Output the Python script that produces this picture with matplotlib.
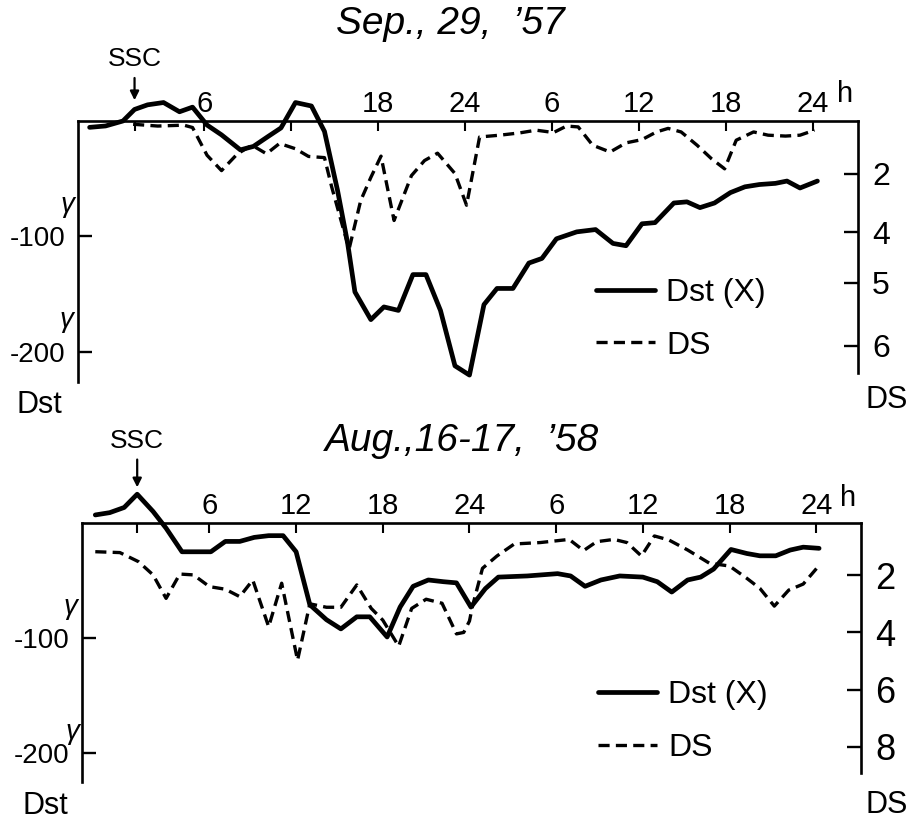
import numpy as np
import matplotlib
matplotlib.use('Agg')
import matplotlib.pyplot as plt

plt.rcParams['font.family'] = ['Liberation Sans', 'DejaVu Sans']
plt.rcParams['lines.scale_dashes'] = False

W, H = 913, 825

# ---------------- Sep. 29, '57 ----------------
hours_dst_57 = [-1.9, -0.8, 0.4, 1.2, 2.1, 3.2, 4.3, 5.2, 6.2, 7.2, 8.5, 9.4, 10.4, 11.3,
                12.3, 13.4, 14.3, 15.2, 15.9, 16.4, 17.5, 18.4, 19.4, 20.4, 21.3, 22.3,
                23.3, 24.3, 25.3, 26.2, 27.3, 28.4, 29.3, 30.3, 31.7, 33.0, 34.2, 35.1,
                36.2, 37.1, 38.4, 39.3, 40.2, 41.2, 42.3, 43.3, 44.3, 45.4, 46.2, 47.1, 48.3]
dst_57 = [-5.5, -4.3, 0, 10, 14, 16, 8, 12, -3.5, -12, -25, -22, -13.5, -6,
          16, 13, -9, -60, -106, -148, -172, -161, -164, -133, -133, -164,
          -212, -220, -159, -145, -145, -123, -119, -102, -96, -94, -106, -108,
          -89, -88, -71, -70, -75, -71, -62, -57, -55, -54, -52, -58, -52]
hours_ds_57 = [1.1, 2.8, 4.6, 5.2, 6.2, 7.2, 8.3, 9.3, 10.3, 11.2, 12.3, 13.2, 14.3, 14.8,
               15.6, 16.0, 16.8, 17.5, 18.2, 19.1, 20.3, 21.2, 22.1, 23.3, 24.1, 25.0,
               26.4, 27.8, 28.9, 30.1, 31.0, 31.8, 32.8, 34.0, 35.1, 36.2, 37.2, 38.0,
               38.9, 40.0, 41.0, 41.9, 42.7, 43.9, 44.9, 46.1, 47.1, 48.1]
ds_57 = [0.33, 0.39, 0.36, 0.44, 1.38, 1.9, 1.33, 1.04, 1.33, 0.98, 1.16, 1.42, 1.46, 2.46,
         3.88, 4.33, 2.92, 2.13, 1.41, 3.6, 2.07, 1.56, 1.31, 2.0, 3.08, 0.76,
         0.70, 0.62, 0.53, 0.61, 0.39, 0.42, 1.04, 1.27, 0.96, 0.85, 0.59, 0.47,
         0.59, 1.04, 1.5, 1.84, 0.87, 0.59, 0.70, 0.73, 0.70, 0.53]

# ---------------- Aug. 16-17, '58 ----------------
hours_dst_58 = [-1.9, -0.9, 0.1, 1.0, 2.1, 3.0, 4.1, 6.1, 7.1, 8.1, 9.1, 10.1, 11.1, 12.0,
                12.95, 14.1, 15.1, 16.2, 17.1, 18.3, 19.2, 20.1, 21.15, 22.2, 23.1, 24.1,
                25.1, 26.0, 28.0, 30.1, 31.0, 32.0, 33.1, 34.4, 36.0, 37.0, 38.0, 39.1,
                40.0, 40.9, 42.1, 43.2, 44.1, 45.2, 46.2, 47.1, 48.2]
dst_58 = [7, 9, 13.5, 25, 10, -4.5, -25, -25, -16, -16, -12.5, -11, -11, -25,
          -71, -84, -92, -81.5, -81.5, -99, -73, -55, -49.5, -51, -52, -73,
          -57, -47, -46, -44, -46, -55, -49.5, -46, -47, -51, -60, -49.5,
          -47, -40, -23, -26.5, -28.5, -28.5, -23.5, -21, -22]
hours_ds_58 = [-1.9, -0.2, 1.1, 2.1, 3.0, 3.95, 4.9, 6.0, 7.1, 8.1, 9.0, 10.1, 11.0, 12.1,
               12.95, 14.1, 15.1, 16.2, 17.2, 18.0, 19.1, 20.0, 21.0, 22.1, 23.1, 23.6,
               24.0, 24.2, 24.9, 25.9, 27.1, 28.9, 30.9, 31.9, 32.8, 34.0, 34.9, 35.9,
               36.8, 37.8, 39.1, 40.6, 42.0, 43.2, 44.1, 45.1, 46.1, 47.1, 48.1]
ds_58 = [1.18, 1.21, 1.53, 1.99, 2.81, 1.96, 1.99, 2.4, 2.49, 2.75, 2.17, 3.8, 2.28, 4.97,
         3.0, 3.12, 3.12, 2.34, 3.16, 3.57, 4.48, 3.16, 2.84, 2.98, 4.05, 4.0,
         3.6, 3.1, 1.76, 1.33, 0.91, 0.86, 0.75, 1.14, 0.83, 0.75, 0.86, 1.33,
         0.63, 0.77, 1.12, 1.58, 1.68, 2.11, 2.46, 3.08, 2.52, 2.31, 1.72]

hour_ticks = [6, 12, 18, 24, 30, 36, 42, 48]
hour_labels_57 = ['6', '', '18', '24', '6', '12', '18', '24']
hour_labels_58 = ['6', '12', '18', '24', '6', '12', '18', '24']
ssc_57, ssc_58 = 1.2, 1.0
dst_ticks = [-100, -200]
dst_labels = ['-100', '-200']
ds_ticks_57 = [2, 4, 5, 6]
ds_ticks_58 = [2, 4, 6, 8]

# DS axis scales (DS value -> equivalent depth on Dst axis), as drawn on the original figure
ds_knots_57 = [-5, 0, 2, 4, 5, 6, 10]
depth_knots_57 = [-132, -5.6, 45.5, 96.3, 140.1, 194.8, 415.6]
ds_knots_58 = [-10, 20]
depth_knots_58 = [-253.1, 493.0]


def fx(x):
    return x / W


def fy(y):
    return 1 - y / H


fig = plt.figure(figsize=(W / 100, H / 100), dpi=100)


def panel(rect, xlim, ylim_bot, right_bot, hours_dst, dst, hours_ds, ds, labels,
          ssc, ssc_y, ssc_off, ds_knots, depth_knots, ds_ticks, ds_fs, leg_xy):
    ax = fig.add_axes(rect)
    ax.set_xlim(*xlim)
    ax.set_ylim(ylim_bot, 0)
    ax.patch.set_alpha(0)
    for s in ['top', 'left', 'right']:
        ax.spines[s].set_linewidth(1.9)
    ax.spines['bottom'].set_visible(False)
    ax.spines['right'].set_bounds(right_bot, 0)

    ax.xaxis.tick_top()
    ax.set_xticks([ssc] + hour_ticks)
    ax.set_xticklabels([''] + labels)
    ax.tick_params(axis='x', direction='in', length=7, width=1.5, top=True, bottom=False,
                   labeltop=True, labelbottom=False, labelsize=21, pad=2)
    ax.set_yticks(dst_ticks)
    ax.set_yticklabels(dst_labels)
    ax.tick_params(axis='y', direction='in', length=10, width=1.7, left=True, right=False,
                   labelsize=20, pad=9)

    l1, = ax.plot(hours_dst, dst, color='black', lw=3.4, solid_joinstyle='round',
                  solid_capstyle='round', clip_on=False, zorder=3)

    ax2 = ax.twinx()
    fwd = lambda v: np.interp(v, ds_knots, depth_knots)
    inv = lambda d: np.interp(d, depth_knots, ds_knots)
    ax2.set_yscale('function', functions=(fwd, inv))
    ax2.set_ylim(float(inv(-ylim_bot)), float(inv(0.0)))
    for s in ax2.spines.values():
        s.set_visible(False)
    ax2.set_yticks(ds_ticks)
    ax2.set_yticklabels([str(t) for t in ds_ticks])
    ax2.yaxis.set_minor_locator(matplotlib.ticker.NullLocator())
    ax2.tick_params(axis='y', direction='in', length=10, width=1.7, right=True,
                    labelsize=ds_fs, pad=10)
    l2, = ax2.plot(hours_ds, ds, color='black', lw=2.4, dashes=(8, 4.5), clip_on=False,
                   zorder=3)

    ax.annotate('SSC', xy=(ssc, ssc_y), xytext=(0, ssc_off), textcoords='offset points',
                ha='center', va='bottom', fontsize=19, annotation_clip=False,
                arrowprops=dict(arrowstyle='-|>', lw=1.6, color='black',
                                mutation_scale=13, shrinkA=3, shrinkB=0))

    ax2.legend([l1, l2], ['Dst (X)', 'DS'], loc='center left',
               bbox_to_anchor=(fx(leg_xy[0]), fy(leg_xy[1])), bbox_transform=fig.transFigure,
               frameon=False, fontsize=23, handlelength=1.85, handletextpad=0.35,
               labelspacing=0.7, borderpad=0, borderaxespad=0)
    return ax, ax2


panel([fx(78), fy(382), (858 - 78) / W, (382 - 121) / H], (-2.7, 51.1), -226, -218,
      hours_dst_57, dst_57, hours_ds_57, ds_57, hour_labels_57,
      ssc_57, 18, 21, ds_knots_57, depth_knots_57, ds_ticks_57, 23, (596, 319.5))

panel([fx(82), fy(782), (861 - 82) / W, (782 - 523) / H], (-2.82, 51.1), -225, -217,
      hours_dst_58, dst_58, hours_ds_58, ds_58, hour_labels_58,
      ssc_58, 31, 25, ds_knots_58, depth_knots_58, ds_ticks_58, 26, (598, 721.5))

# titles and annotations
fig.text(fx(450), fy(24), "Sep., 29,  \u201957", ha='center', va='center', fontsize=28,
         style='italic')
fig.text(fx(462), fy(441), "Aug.,16-17,  \u201958", ha='center', va='center', fontsize=28,
         style='italic')
for (x, y) in [(67, 205), (66, 320), (70, 607), (72, 732)]:
    fig.text(fx(x), fy(y), "\u03b3", ha='center', va='center', fontsize=20, style='italic')
for (x, y) in [(845, 94), (848, 498)]:
    fig.text(fx(x), fy(y), "h", ha='center', va='center', fontsize=21)
for (x, y) in [(39, 405), (45, 806)]:
    fig.text(fx(x), fy(y), "Dst", ha='center', va='center', fontsize=22)
for (x, y) in [(887, 400), (887, 805)]:
    fig.text(fx(x), fy(y), "DS", ha='center', va='center', fontsize=22)

fig.savefig('out.png', dpi=100)
